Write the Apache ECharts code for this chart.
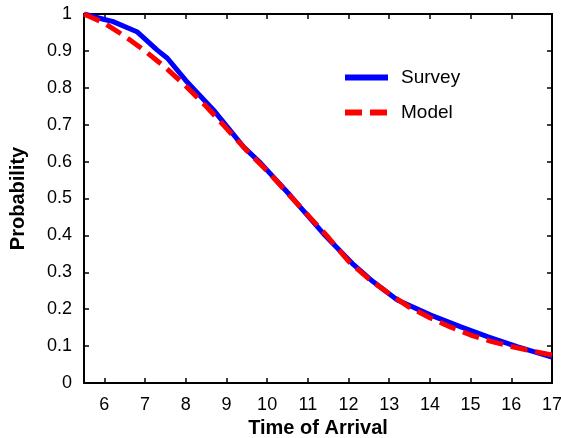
<!DOCTYPE html>
<html><head><meta charset="utf-8">
<script src="https://cdn.jsdelivr.net/npm/echarts@6/dist/echarts.min.js"></script>
<style>html,body{margin:0;padding:0;background:#fff}#c{width:561px;height:438px}</style>
</head><body><div id="c"></div>
<script>
const surveyX = [5.5, 6, 6.2, 6.8, 7.3, 7.55, 8, 8.68, 9.42, 9.84, 10.57, 10.82, 11.39, 12.13, 12.6, 13.2, 14.02, 14.76, 15.43, 16.16, 17];
const surveyY = [1.0, 0.985, 0.98, 0.952, 0.902, 0.88, 0.82, 0.74, 0.64, 0.596, 0.508, 0.476, 0.404, 0.32, 0.275, 0.225, 0.184, 0.152, 0.125, 0.098, 0.07];
const modelX = [5.5, 6, 6.5, 7, 7.5, 8, 8.5, 9, 9.5, 10, 10.5, 11, 11.5, 12, 12.5, 13, 13.5, 14, 14.5, 15, 15.5, 16, 16.5, 17];
const modelY = [1.0, 0.975, 0.94, 0.9, 0.855, 0.805, 0.75, 0.69, 0.63, 0.575, 0.515, 0.455, 0.395, 0.33, 0.282, 0.242, 0.205, 0.177, 0.152, 0.13, 0.113, 0.099, 0.087, 0.076];
const xTicks = [6, 7, 8, 9, 10, 11, 12, 13, 14, 15, 16, 17];
const yTicks = [0, 0.1, 0.2, 0.3, 0.4, 0.5, 0.6, 0.7, 0.8, 0.9, 1];
const seriesNames = ['Survey', 'Model'];

const font = 'Liberation Sans, Arial, sans-serif';
const chart = echarts.init(document.getElementById('c'));
const axisBase = {
  axisLine: {show: true, onZero: false, lineStyle: {color: '#000', width: 2}},
  axisTick: {show: true, inside: true, length: 5, lineStyle: {color: '#000', width: 1.5}},
  splitLine: {show: false}
};
chart.setOption({
  animation: false,
  grid: {left: 84, right: 9, top: 14, bottom: 55, containLabel: false, outerBoundsMode: 'none'},
  legend: {
    orient: 'vertical', left: 337, top: 63, itemWidth: 43, itemHeight: 14, itemGap: 16,
    itemStyle: {color: 'transparent', borderColor: 'transparent', borderWidth: 0, opacity: 0},
    lineStyle: {width: 6},
    textStyle: {fontFamily: font, fontSize: 19, color: '#000', padding: [0, 0, 0, 8]},
    data: seriesNames
  },
  xAxis: [
    Object.assign({}, axisBase, {
      type: 'value', min: 5.5, max: 17, interval: 1, position: 'bottom',
      axisLabel: {fontFamily: font, fontSize: 18, color: '#000', margin: 13,
        customValues: xTicks, formatter: v => String(v)},
      axisTick: Object.assign({}, axisBase.axisTick, {customValues: xTicks}),
      name: 'Time of Arrival', nameLocation: 'middle', nameGap: 31,
      nameTextStyle: {fontFamily: font, fontSize: 20, fontWeight: 'bold', color: '#000'}
    }),
    Object.assign({}, axisBase, {
      type: 'value', min: 5.5, max: 17, position: 'top',
      axisLabel: {show: false},
      axisTick: Object.assign({}, axisBase.axisTick, {customValues: xTicks})
    })
  ],
  yAxis: [
    Object.assign({}, axisBase, {
      type: 'value', min: 0, max: 1, interval: 0.1, position: 'left',
      axisLabel: {fontFamily: font, fontSize: 18, color: '#000', margin: 12,
        customValues: yTicks, formatter: v => String(v)},
      name: 'Probability', nameLocation: 'middle', nameGap: 56, nameRotate: 90,
      nameTextStyle: {fontFamily: font, fontSize: 20, fontWeight: 'bold', color: '#000'}
    }),
    Object.assign({}, axisBase, {
      type: 'value', min: 0, max: 1, interval: 0.1, position: 'right',
      axisLabel: {show: false}
    })
  ],
  series: [
    {name: seriesNames[0], type: 'line', symbol: 'none', showSymbol: false,
      data: surveyX.map((x, i) => [x, surveyY[i]]),
      lineStyle: {color: '#0000ff', width: 5}, itemStyle: {color: '#0000ff'}, z: 2},
    {name: seriesNames[1], type: 'line', symbol: 'none', showSymbol: false,
      data: modelX.map((x, i) => [x, modelY[i]]),
      lineStyle: {color: '#ff0000', width: 5, type: [17, 8]}, itemStyle: {color: '#ff0000'}, z: 3}
  ]
});
</script></body></html>
